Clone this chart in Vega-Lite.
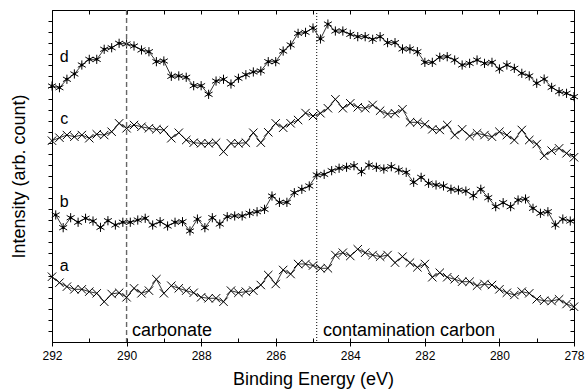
{
"$schema": "https://vega.github.io/schema/vega-lite/v6.json",
"width": 522, "height": 332,
"autosize": {"type": "none"},
"padding": {"left": 52, "top": 10, "right": 11, "bottom": 49},
"background": "white",
"config": {
 "view": {"stroke": "black", "strokeWidth": 1},
 "axis": {"domainColor": "black", "tickColor": "black", "labelColor": "black", "titleColor": "black", "labelFont": "Liberation Sans", "titleFont": "Liberation Sans", "titleFontWeight": "normal", "labelFontSize": 12, "titleFontSize": 18, "grid": false, "domainWidth": 1, "tickWidth": 1}
},
"datasets": {
 "spectra": [
{"s":"a","e":292,"v":5.90},{"s":"a","e":291.8,"v":5.36},{"s":"a","e":291.6,"v":5.00},{"s":"a","e":291.4,"v":4.76},{"s":"a","e":291.2,"v":4.76},{"s":"a","e":291,"v":4.55},{"s":"a","e":290.8,"v":4.40},{"s":"a","e":290.6,"v":3.64},{"s":"a","e":290.4,"v":4.34},{"s":"a","e":290.2,"v":4.45},
{"s":"a","e":290,"v":4.04},{"s":"a","e":289.8,"v":4.85},{"s":"a","e":289.6,"v":4.40},{"s":"a","e":289.4,"v":4.64},{"s":"a","e":289.2,"v":5.67},{"s":"a","e":289,"v":4.40},{"s":"a","e":288.8,"v":5.09},{"s":"a","e":288.6,"v":4.85},{"s":"a","e":288.4,"v":4.64},{"s":"a","e":288.2,"v":4.45},
{"s":"a","e":288,"v":4.04},{"s":"a","e":287.8,"v":3.95},{"s":"a","e":287.6,"v":3.95},{"s":"a","e":287.4,"v":3.64},{"s":"a","e":287.2,"v":4.64},{"s":"a","e":287,"v":4.45},{"s":"a","e":286.8,"v":4.55},{"s":"a","e":286.6,"v":4.64},{"s":"a","e":286.4,"v":5.15},{"s":"a","e":286.2,"v":6.05},
{"s":"a","e":286,"v":5.24},{"s":"a","e":285.8,"v":6.51},{"s":"a","e":285.6,"v":6.14},{"s":"a","e":285.4,"v":7.05},{"s":"a","e":285.2,"v":7.05},{"s":"a","e":285,"v":6.91},{"s":"a","e":284.8,"v":6.66},{"s":"a","e":284.6,"v":6.66},{"s":"a","e":284.4,"v":7.86},{"s":"a","e":284.2,"v":8.07},
{"s":"a","e":284,"v":7.77},{"s":"a","e":283.8,"v":8.38},{"s":"a","e":283.6,"v":8.07},{"s":"a","e":283.4,"v":7.86},{"s":"a","e":283.2,"v":7.71},{"s":"a","e":283,"v":7.86},{"s":"a","e":282.8,"v":7.17},{"s":"a","e":282.6,"v":7.71},{"s":"a","e":282.4,"v":7.17},{"s":"a","e":282.2,"v":6.75},
{"s":"a","e":282,"v":7.05},{"s":"a","e":281.8,"v":5.85},{"s":"a","e":281.6,"v":6.26},{"s":"a","e":281.4,"v":5.85},{"s":"a","e":281.2,"v":5.67},{"s":"a","e":281,"v":5.45},{"s":"a","e":280.8,"v":5.45},{"s":"a","e":280.6,"v":5.09},{"s":"a","e":280.4,"v":5.24},{"s":"a","e":280.2,"v":5.15},
{"s":"a","e":280,"v":4.76},{"s":"a","e":279.8,"v":4.45},{"s":"a","e":279.6,"v":4.25},{"s":"a","e":279.4,"v":4.55},{"s":"a","e":279.2,"v":4.40},{"s":"a","e":279,"v":3.86},{"s":"a","e":278.8,"v":3.73},{"s":"a","e":278.6,"v":3.70},{"s":"a","e":278.4,"v":3.86},{"s":"a","e":278.2,"v":3.43},{"s":"a","e":278,"v":3.19},
{"s":"b","e":291.9,"v":11.48},{"s":"b","e":291.7,"v":10.33},{"s":"b","e":291.5,"v":11.23},{"s":"b","e":291.3,"v":10.82},{"s":"b","e":291.1,"v":11.18},{"s":"b","e":290.9,"v":10.93},{"s":"b","e":290.7,"v":10.36},{"s":"b","e":290.5,"v":10.96},{"s":"b","e":290.3,"v":10.57},{"s":"b","e":290.1,"v":10.82},
{"s":"b","e":289.9,"v":10.82},{"s":"b","e":289.7,"v":11.02},{"s":"b","e":289.5,"v":11.18},{"s":"b","e":289.3,"v":10.57},{"s":"b","e":289.1,"v":10.87},{"s":"b","e":288.9,"v":10.48},{"s":"b","e":288.7,"v":10.82},{"s":"b","e":288.5,"v":10.87},{"s":"b","e":288.3,"v":10.03},{"s":"b","e":288.1,"v":11.11},
{"s":"b","e":287.9,"v":10.33},{"s":"b","e":287.7,"v":11.23},{"s":"b","e":287.5,"v":10.66},{"s":"b","e":287.3,"v":11.32},{"s":"b","e":287.1,"v":11.39},{"s":"b","e":286.9,"v":11.39},{"s":"b","e":286.7,"v":11.63},{"s":"b","e":286.5,"v":11.77},{"s":"b","e":286.3,"v":11.99},{"s":"b","e":286.1,"v":13.19},
{"s":"b","e":285.9,"v":12.62},{"s":"b","e":285.7,"v":12.62},{"s":"b","e":285.5,"v":13.49},{"s":"b","e":285.3,"v":13.80},{"s":"b","e":285.1,"v":14.10},{"s":"b","e":284.9,"v":15.09},{"s":"b","e":284.7,"v":15.15},{"s":"b","e":284.5,"v":15.48},{"s":"b","e":284.3,"v":15.70},{"s":"b","e":284.1,"v":15.79},
{"s":"b","e":283.9,"v":15.93},{"s":"b","e":283.7,"v":15.39},{"s":"b","e":283.5,"v":15.99},{"s":"b","e":283.3,"v":15.79},{"s":"b","e":283.1,"v":15.63},{"s":"b","e":282.9,"v":15.84},{"s":"b","e":282.7,"v":15.54},{"s":"b","e":282.5,"v":15.33},{"s":"b","e":282.3,"v":14.43},{"s":"b","e":282.1,"v":14.88},
{"s":"b","e":281.9,"v":14.34},{"s":"b","e":281.7,"v":14.19},{"s":"b","e":281.5,"v":14.10},{"s":"b","e":281.3,"v":13.80},{"s":"b","e":281.1,"v":13.73},{"s":"b","e":280.9,"v":13.64},{"s":"b","e":280.7,"v":13.22},{"s":"b","e":280.5,"v":13.80},{"s":"b","e":280.3,"v":13.04},{"s":"b","e":280.1,"v":12.23},
{"s":"b","e":279.9,"v":12.59},{"s":"b","e":279.7,"v":12.23},{"s":"b","e":279.5,"v":12.83},{"s":"b","e":279.3,"v":12.92},{"s":"b","e":279.1,"v":12.08},{"s":"b","e":278.9,"v":11.63},{"s":"b","e":278.7,"v":11.77},{"s":"b","e":278.5,"v":10.57},{"s":"b","e":278.3,"v":11.11},{"s":"b","e":278.1,"v":10.93},
{"s":"c","e":292,"v":18.19},{"s":"c","e":291.8,"v":18.46},{"s":"c","e":291.6,"v":18.70},{"s":"c","e":291.4,"v":18.55},{"s":"c","e":291.2,"v":18.70},{"s":"c","e":291,"v":18.41},{"s":"c","e":290.8,"v":18.77},{"s":"c","e":290.6,"v":18.70},{"s":"c","e":290.4,"v":19.00},{"s":"c","e":290.2,"v":19.76},
{"s":"c","e":290,"v":19.31},{"s":"c","e":289.8,"v":19.61},{"s":"c","e":289.6,"v":19.45},{"s":"c","e":289.4,"v":19.31},{"s":"c","e":289.2,"v":19.22},{"s":"c","e":289,"v":19.16},{"s":"c","e":288.8,"v":18.41},{"s":"c","e":288.6,"v":18.91},{"s":"c","e":288.4,"v":18.25},{"s":"c","e":288.2,"v":18.01},
{"s":"c","e":288,"v":17.95},{"s":"c","e":287.8,"v":17.95},{"s":"c","e":287.6,"v":18.01},{"s":"c","e":287.4,"v":17.20},{"s":"c","e":287.2,"v":17.95},{"s":"c","e":287,"v":17.95},{"s":"c","e":286.8,"v":18.01},{"s":"c","e":286.6,"v":18.91},{"s":"c","e":286.4,"v":18.01},{"s":"c","e":286.2,"v":18.95},
{"s":"c","e":286,"v":19.76},{"s":"c","e":285.8,"v":19.36},{"s":"c","e":285.6,"v":19.76},{"s":"c","e":285.4,"v":20.06},{"s":"c","e":285.2,"v":20.69},{"s":"c","e":285,"v":20.42},{"s":"c","e":284.8,"v":20.67},{"s":"c","e":284.6,"v":21.12},{"s":"c","e":284.4,"v":21.93},{"s":"c","e":284.2,"v":21.12},
{"s":"c","e":284,"v":21.57},{"s":"c","e":283.8,"v":21.21},{"s":"c","e":283.6,"v":21.12},{"s":"c","e":283.4,"v":21.42},{"s":"c","e":283.2,"v":20.90},{"s":"c","e":283,"v":20.60},{"s":"c","e":282.8,"v":20.67},{"s":"c","e":282.6,"v":21.03},{"s":"c","e":282.4,"v":19.85},{"s":"c","e":282.2,"v":19.85},
{"s":"c","e":282,"v":19.67},{"s":"c","e":281.8,"v":19.22},{"s":"c","e":281.6,"v":19.16},{"s":"c","e":281.4,"v":19.61},{"s":"c","e":281.2,"v":18.70},{"s":"c","e":281,"v":19.22},{"s":"c","e":280.8,"v":18.61},{"s":"c","e":280.6,"v":18.86},{"s":"c","e":280.4,"v":18.70},{"s":"c","e":280.2,"v":18.55},
{"s":"c","e":280,"v":19.00},{"s":"c","e":279.8,"v":18.70},{"s":"c","e":279.6,"v":18.25},{"s":"c","e":279.4,"v":19.16},{"s":"c","e":279.2,"v":18.25},{"s":"c","e":279,"v":17.89},{"s":"c","e":278.8,"v":16.83},{"s":"c","e":278.6,"v":17.29},{"s":"c","e":278.4,"v":17.50},{"s":"c","e":278.2,"v":17.05},{"s":"c","e":278,"v":16.69},
{"s":"d","e":292,"v":23.13},{"s":"d","e":291.8,"v":22.98},{"s":"d","e":291.6,"v":23.74},{"s":"d","e":291.4,"v":24.22},{"s":"d","e":291.2,"v":25.03},{"s":"d","e":291,"v":25.54},{"s":"d","e":290.8,"v":25.54},{"s":"d","e":290.6,"v":26.45},{"s":"d","e":290.4,"v":26.59},{"s":"d","e":290.2,"v":26.99},
{"s":"d","e":290,"v":26.93},{"s":"d","e":289.8,"v":26.75},{"s":"d","e":289.6,"v":26.39},{"s":"d","e":289.4,"v":26.23},{"s":"d","e":289.2,"v":25.33},{"s":"d","e":289,"v":25.39},{"s":"d","e":288.8,"v":24.01},{"s":"d","e":288.6,"v":24.04},{"s":"d","e":288.4,"v":23.92},{"s":"d","e":288.2,"v":23.16},
{"s":"d","e":288,"v":23.16},{"s":"d","e":287.8,"v":22.38},{"s":"d","e":287.6,"v":23.58},{"s":"d","e":287.4,"v":23.74},{"s":"d","e":287.2,"v":23.31},{"s":"d","e":287,"v":23.83},{"s":"d","e":286.8,"v":24.15},{"s":"d","e":286.6,"v":24.40},{"s":"d","e":286.4,"v":24.49},{"s":"d","e":286.2,"v":25.33},
{"s":"d","e":286,"v":25.33},{"s":"d","e":285.8,"v":26.29},{"s":"d","e":285.6,"v":26.84},{"s":"d","e":285.4,"v":27.89},{"s":"d","e":285.2,"v":27.98},{"s":"d","e":285,"v":28.37},{"s":"d","e":284.8,"v":27.38},{"s":"d","e":284.6,"v":28.73},{"s":"d","e":284.4,"v":28.10},{"s":"d","e":284.2,"v":28.10},
{"s":"d","e":284,"v":27.80},{"s":"d","e":283.8,"v":27.59},{"s":"d","e":283.6,"v":27.59},{"s":"d","e":283.4,"v":27.35},{"s":"d","e":283.2,"v":27.59},{"s":"d","e":283,"v":27.05},{"s":"d","e":282.8,"v":27.05},{"s":"d","e":282.6,"v":26.48},{"s":"d","e":282.4,"v":26.48},{"s":"d","e":282.2,"v":26.23},
{"s":"d","e":282,"v":25.27},{"s":"d","e":281.8,"v":25.27},{"s":"d","e":281.6,"v":25.73},{"s":"d","e":281.4,"v":25.78},{"s":"d","e":281.2,"v":25.48},{"s":"d","e":281,"v":25.03},{"s":"d","e":280.8,"v":25.18},{"s":"d","e":280.6,"v":25.48},{"s":"d","e":280.4,"v":25.18},{"s":"d","e":280.2,"v":25.27},
{"s":"d","e":280,"v":24.67},{"s":"d","e":279.8,"v":25.03},{"s":"d","e":279.6,"v":24.73},{"s":"d","e":279.4,"v":24.28},{"s":"d","e":279.2,"v":24.04},{"s":"d","e":279,"v":23.38},{"s":"d","e":278.8,"v":23.76},{"s":"d","e":278.6,"v":23.01},{"s":"d","e":278.4,"v":22.62},{"s":"d","e":278.2,"v":22.47},{"s":"d","e":278,"v":22.17}
 ],
 "labels": [
  {"t":"a","e":291.67,"v":6.44},{"t":"b","e":291.67,"v":12.23},{"t":"c","e":291.67,"v":19.70},{"t":"d","e":291.67,"v":25.33}
 ],
 "notes": [
  {"t":"carbonate","e":289.855,"v":0.55},{"t":"contamination carbon","e":284.733,"v":0.55}
 ]
},
"layer": [
 {
  "data": {"name": "spectra"},
  "mark": {"type": "line", "color": "black", "strokeWidth": 0.8},
  "encoding": {
   "x": {"field": "e", "type": "quantitative", "scale": {"domain": [292, 278], "nice": false, "zero": false},
    "axis": {"orient": "bottom", "values": [292, 290, 288, 286, 284, 282, 280, 278], "format": "d", "tickSize": 4, "labelPadding": 4, "labelFlush": false, "labelOverlap": false, "title": "Binding Energy (eV)", "titlePadding": 9}},
   "y": {"field": "v", "type": "quantitative", "scale": {"domain": [0, 30], "nice": false, "zero": false},
    "axis": {"orient": "left", "values": [1,2,3,4,5,6,7,8,9,10,11,12,13,14,15,16,17,18,19,20,21,22,23,24,25,26,27,28,29], "tickSize": 4, "labels": false, "title": "Intensity (arb. count)", "titlePadding": 19}},
   "detail": {"field": "s"}
  }
 },
 {
  "data": {"name": "spectra"},
  "mark": {"type": "point", "filled": false, "stroke": "black", "strokeWidth": 1, "size": 70, "opacity": 1},
  "encoding": {
   "x": {"field": "e", "type": "quantitative", "axis": null},
   "y": {"field": "v", "type": "quantitative", "axis": null},
   "shape": {"field": "s", "type": "nominal", "legend": null,
    "scale": {"domain": ["a", "b", "c", "d"], "range": ["M-1,-1L1,1M-1,1L1,-1", "M0,-1.1L0,1.1M-0.95,-0.55L0.95,0.55M-0.95,0.55L0.95,-0.55", "M-1,-1L1,1M-1,1L1,-1", "M0,-1.1L0,1.1M-0.95,-0.55L0.95,0.55M-0.95,0.55L0.95,-0.55"]}}
  }
 },
 {
  "data": {"name": "spectra"},
  "transform": [{"filter": "datum.s === 'b' || datum.s === 'd'"}],
  "mark": {"type": "circle", "color": "black", "size": 8, "opacity": 1},
  "encoding": {
   "x": {"field": "e", "type": "quantitative", "axis": null},
   "y": {"field": "v", "type": "quantitative", "axis": null}
  }
 },
 {
  "data": {"values": [{"e": 290}]},
  "mark": {"type": "rule", "color": "#666666", "strokeWidth": 1.4, "strokeDash": [5, 3]},
  "encoding": {"x": {"field": "e", "type": "quantitative", "axis": null}}
 },
 {
  "data": {"values": [{"e": 284.9}]},
  "mark": {"type": "rule", "color": "black", "strokeWidth": 1, "strokeDash": [1, 2]},
  "encoding": {"x": {"field": "e", "type": "quantitative", "axis": null}}
 },
 {
  "data": {"name": "labels"},
  "mark": {"type": "text", "font": "Liberation Sans", "fontSize": 16, "color": "black", "align": "center", "baseline": "alphabetic"},
  "encoding": {
   "x": {"field": "e", "type": "quantitative",
    "axis": {"orient": "top", "values": [279,280,281,282,283,284,285,286,287,288,289,290,291], "tickSize": -4, "labels": false, "title": null}},
   "y": {"field": "v", "type": "quantitative",
    "axis": {"orient": "right", "values": [1,2,3,4,5,6,7,8,9,10,11,12,13,14,15,16,17,18,19,20,21,22,23,24,25,26,27,28,29], "tickSize": -4, "labels": false, "title": null}},
   "text": {"field": "t"}
  }
 },
 {
  "data": {"name": "notes"},
  "mark": {"type": "text", "font": "Liberation Sans", "fontSize": 18, "color": "black", "align": "left", "baseline": "alphabetic"},
  "encoding": {
   "x": {"field": "e", "type": "quantitative",
    "axis": {"orient": "bottom", "values": [279,280,281,282,283,284,285,286,287,288,289,290,291], "tickSize": -4, "labels": false, "domain": false, "title": null}},
   "y": {"field": "v", "type": "quantitative", "axis": null},
   "text": {"field": "t"}
  }
 }
],
"resolve": {"axis": {"x": "independent", "y": "independent"}}
}
